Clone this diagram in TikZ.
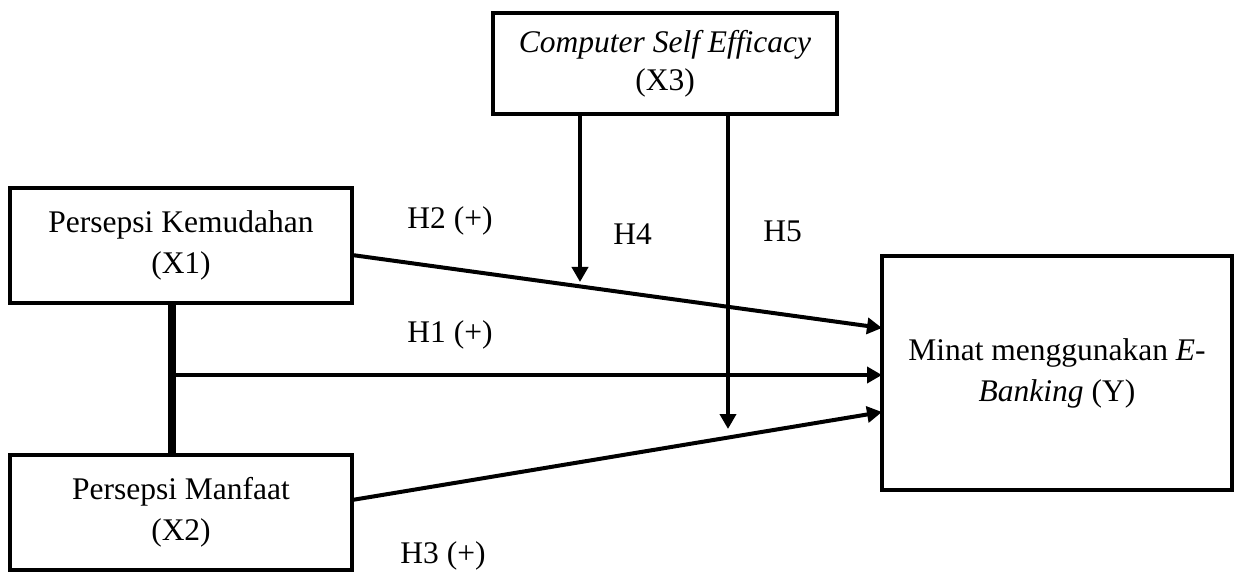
\documentclass[tikz,border=0pt]{standalone}
\usepackage{fontspec}
\setmainfont{Liberation Serif}
\usetikzlibrary{arrows.meta,calc}
\begin{document}
\begin{tikzpicture}[x=0.5pt,y=-0.5pt,
  box/.style={draw,line width=1.6pt,outer sep=0pt,inner sep=0pt,align=center,
    font=\fontsize{15.75}{20.5}\selectfont},
  lbl/.style={anchor=base west,inner sep=0pt,font=\fontsize{15.75}{20}\selectfont},
  arr/.style={line width=2pt,-{Triangle[width=8pt,length=7.5pt]}},
  link/.style={line width=3.8pt}]
\useasboundingbox (0,0) rectangle (1236,572);
\node[box,minimum width=171pt,minimum height=57.5pt] (X1) at (181,245.5) {Persepsi Kemudahan\\(X1)};
\node[box,minimum width=171pt,minimum height=57.5pt] (X2) at (181,512.5) {Persepsi Manfaat\\(X2)};
\node[box,minimum width=172pt,minimum height=50.5pt,font=\fontsize{15.75}{19}\selectfont] (X3) at (665,63.5) {\textit{Computer Self Efficacy}\\(X3)};
\node[box,minimum width=175pt,minimum height=117pt] (Y) at (1057,373) {Minat menggunakan \textit{E}-\\\textit{Banking} (Y)};
% coordinates
\coordinate (vx) at (172,0);
\coordinate (j1) at (172,375);
\coordinate (h4x) at (580,0);
\coordinate (h4e) at (580,282);
\coordinate (h5x) at (728,0);
\coordinate (h5e) at (728,429);
% connectors
\draw[link] (X1.south -| vx) -- (X2.north -| vx);
\draw[arr] ($(j1)+(4,0)$) -- (j1 -| Y.west);
\draw[arr] ($(X1.east)+(0,9.5)$) -- ($(Y.west)+(0,-45)$);
\draw[arr] ($(X2.east)+(0,-12.5)$) -- ($(Y.west)+(0,39)$);
\draw[arr] (X3.south -| h4x) -- (h4e);
\draw[arr] (X3.south -| h5x) -- (h5e);
% labels
\node[lbl] (l2) at (407,228) {H2 (+)};
\node[lbl] (l4) at (613,245) {H4};
\node[lbl] (l5) at (763,242) {H5};
\node[lbl] (l1) at (407,342) {H1 (+)};
\node[lbl] (l3) at (400,563) {H3 (+)};
\end{tikzpicture}
\end{document}
